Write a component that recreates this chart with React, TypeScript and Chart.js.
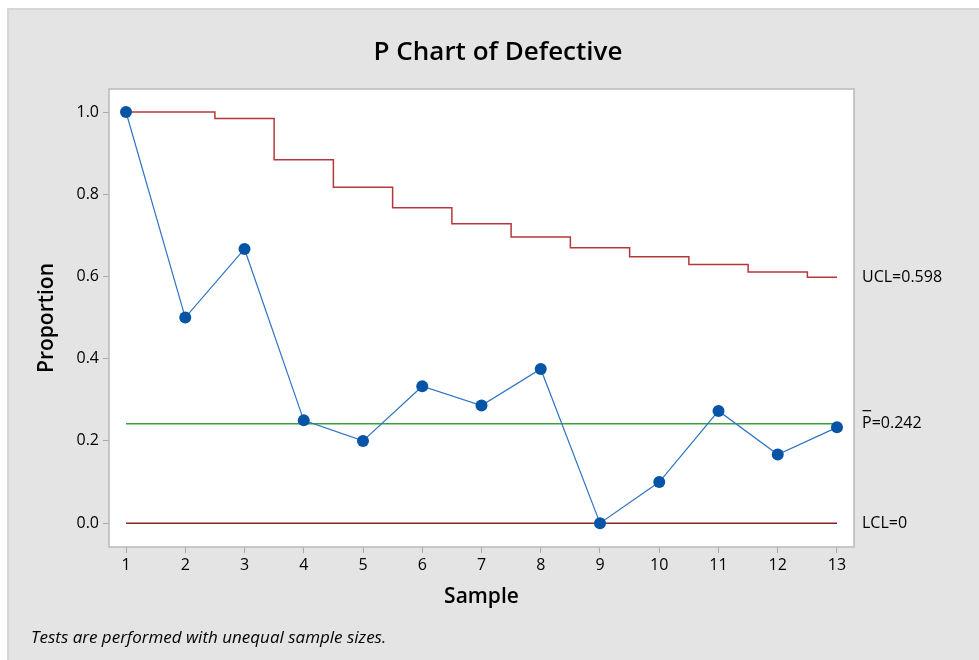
import React, { useEffect, useRef } from "react";
import { Chart, registerables } from "chart.js";

Chart.register(...registerables);

const samples = [1, 2, 3, 4, 5, 6, 7, 8, 9, 10, 11, 12, 13];
const proportions = [1.0, 0.5, 0.667, 0.25, 0.2, 0.333, 0.286, 0.375, 0.0, 0.1, 0.273, 0.167, 0.233];
const ucl = [1.0, 1.0, 0.984, 0.884, 0.817, 0.767, 0.728, 0.696, 0.670, 0.648, 0.629, 0.611, 0.598];
const centerLine = 0.242;
const lcl = 0;
const yTickValues = [0, 0.2, 0.4, 0.6, 0.8, 1.0];
const title = "P Chart of Defective";
const xTitle = "Sample";
const yTitle = "Proportion";
const footnote = "Tests are performed with unequal sample sizes.";
const uclLabel = "UCL=0.598";
const clLabel = "=0.242";
const lclLabel = "LCL=0";

const FONT = "'Open Sans', 'Noto Sans', sans-serif";

const decorPlugin = {
  id: "decor",
  beforeDraw(chart: any) {
    const { ctx, width, height } = chart;
    ctx.save();
    ctx.fillStyle = "#ffffff";
    ctx.fillRect(0, 0, width, height);
    ctx.fillStyle = "#e4e4e4";
    ctx.fillRect(7, 8, width - 7, height - 8);
    ctx.fillStyle = "#d6d6d6";
    ctx.fillRect(7, 8, width - 7, 2);
    ctx.fillRect(7, 8, 2, height - 8);
    const a = chart.chartArea;
    ctx.fillStyle = "#ffffff";
    ctx.fillRect(a.left, a.top, a.right - a.left, a.bottom - a.top);
    ctx.restore();
  },
  afterDraw(chart: any) {
    const { ctx } = chart;
    const a = chart.chartArea;
    const ys = chart.scales.y;
    ctx.save();
    ctx.strokeStyle = "#b9b9b9";
    ctx.lineWidth = 1.5;
    ctx.strokeRect(a.left, a.top, a.right - a.left, a.bottom - a.top);

    ctx.fillStyle = "#000000";
    ctx.textAlign = "center";
    ctx.textBaseline = "middle";
    ctx.font = `600 26px ${FONT}`;
    ctx.fillText(title, 498, 53);

    ctx.font = `600 21px ${FONT}`;
    ctx.fillText(xTitle, (a.left + a.right) / 2, 597);

    ctx.save();
    ctx.translate(47, (a.top + a.bottom) / 2);
    ctx.rotate(-Math.PI / 2);
    ctx.fillText(yTitle, 0, 0);
    ctx.restore();

    ctx.textAlign = "left";
    ctx.font = `italic 17px ${FONT}`;
    ctx.fillText(footnote, 31, 638);

    ctx.font = `16px ${FONT}`;
    const lx = 862;
    ctx.fillText(uclLabel, lx, ys.getPixelForValue(ucl[ucl.length - 1]));
    const cy = ys.getPixelForValue(centerLine);
    ctx.fillText("P", lx, cy);
    const pw = ctx.measureText("P").width;
    ctx.fillText(clLabel, lx + pw, cy);
    ctx.strokeStyle = "#000000";
    ctx.lineWidth = 1.2;
    ctx.beginPath();
    ctx.moveTo(lx + 0.5, cy - 13);
    ctx.lineTo(lx + pw - 0.5, cy - 13);
    ctx.stroke();
    ctx.fillText(lclLabel, lx, ys.getPixelForValue(lcl));
    ctx.restore();
  },
};

export default function App() {
  const ref = useRef<HTMLCanvasElement | null>(null);
  useEffect(() => {
    if (!ref.current) return;
    const chart = new Chart(ref.current, {
      type: "line",
      data: {
        datasets: [
          {
            label: "Proportion",
            data: samples.map((s, i) => ({ x: s, y: proportions[i] })),
            borderColor: "#2d74c2",
            borderWidth: 1.2,
            pointRadius: 6,
            pointBackgroundColor: "#0554a6",
            pointBorderWidth: 0,
            order: 0,
          },
          {
            label: "UCL",
            data: samples.map((s, i) => ({ x: s, y: ucl[i] })),
            borderColor: "#b4383b",
            borderWidth: 1.5,
            pointRadius: 0,
            stepped: "middle",
            order: 1,
          },
          {
            label: "CL",
            data: [
              { x: samples[0], y: centerLine },
              { x: samples[samples.length - 1], y: centerLine },
            ],
            borderColor: "#3f9f3f",
            borderWidth: 1.5,
            pointRadius: 0,
            order: 2,
          },
          {
            label: "LCL",
            data: [
              { x: samples[0], y: lcl },
              { x: samples[samples.length - 1], y: lcl },
            ],
            borderColor: "#8a2424",
            borderWidth: 1.5,
            pointRadius: 0,
            order: 3,
          },
        ],
      },
      options: {
        animation: false,
        responsive: false,
        layout: { padding: { left: 0, top: 89, right: 125, bottom: 0 } },
        plugins: { legend: { display: false }, tooltip: { enabled: false }, title: { display: false } },
        scales: {
          x: {
            type: "linear",
            min: 0.713,
            max: 13.287,
            afterBuildTicks: (scale: any) => {
              scale.ticks = samples.map((v) => ({ value: v }));
            },
            afterFit: (scale: any) => {
              scale.height = 113;
            },
            grid: { drawOnChartArea: false, color: "#a8a8a8", tickLength: 6 },
            border: { display: false },
            ticks: {
              font: { family: FONT, size: 16 },
              color: "#000000",
              padding: 3,
              maxRotation: 0,
              callback: (v: any) => String(v),
            },
          },
          y: {
            type: "linear",
            min: -0.058,
            max: 1.056,
            afterBuildTicks: (scale: any) => {
              scale.ticks = yTickValues.map((v) => ({ value: v }));
            },
            afterFit: (scale: any) => {
              scale.width = 109;
            },
            grid: { drawOnChartArea: false, color: "#a8a8a8", tickLength: 6 },
            border: { display: false },
            ticks: {
              font: { family: FONT, size: 16 },
              color: "#000000",
              padding: 4,
              callback: (v: any) => Number(v).toFixed(1),
            },
          },
        },
      },
      plugins: [decorPlugin],
    });
    return () => chart.destroy();
  }, []);
  return (
    <div style={{ position: "absolute", left: 0, top: 0, width: 979, height: 660 }}>
      <canvas ref={ref} width={979} height={660} style={{ width: 979, height: 660, display: "block" }} />
    </div>
  );
}
